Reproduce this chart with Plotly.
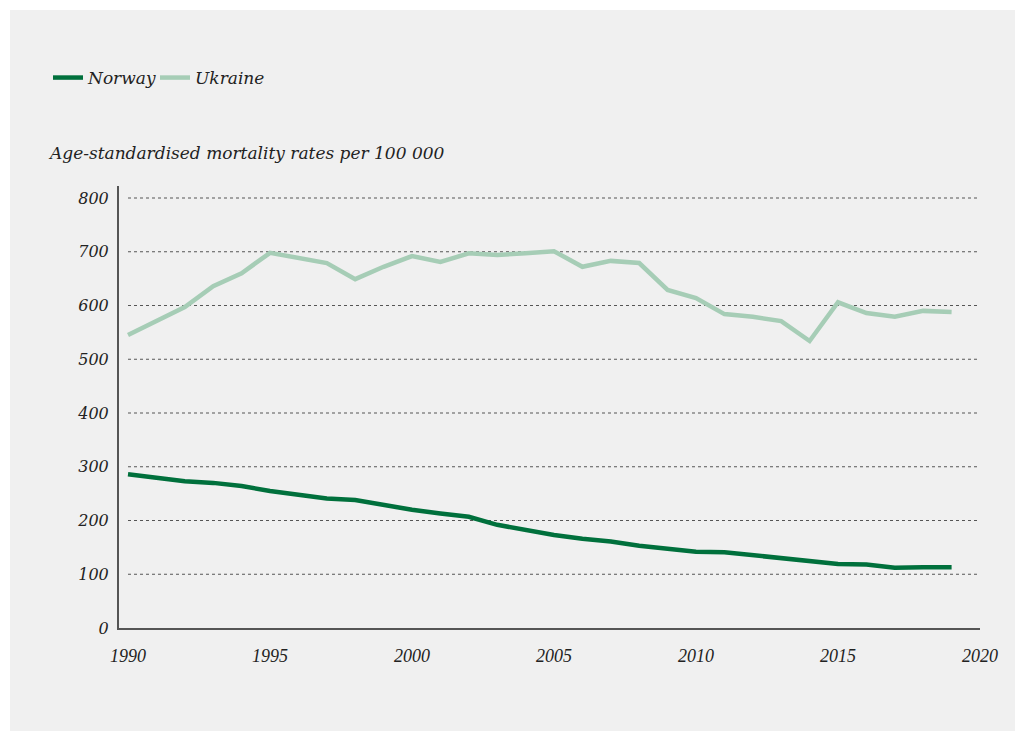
import plotly.graph_objects as go

years = list(range(1990, 2020))
norway = [286, 279, 273, 270, 264, 255, 247, 241, 238, 228, 220, 213, 207, 192, 182,
          173, 166, 161, 153, 147, 142, 141, 136, 130, 125, 119, 118, 112, 113, 113]
ukraine = [545, 571, 597, 636, 660, 698, 688, 679, 649, 672, 692, 681, 697, 694, 697,
           701, 672, 683, 679, 629, 614, 584, 579, 571, 534, 606, 586, 579, 590, 588]
y_ticks = [0, 100, 200, 300, 400, 500, 600, 700, 800]
x_ticks = [1990, 1995, 2000, 2005, 2010, 2015, 2020]

GREY = "#555555"
FONT = "DejaVu Serif"

L, T, PW, PH = 119, 186, 861, 442
W, H = 1025, 731

fig = go.Figure()
fig.add_trace(go.Scatter(x=years, y=norway, name="Norway", mode="lines",
                         line=dict(color="#00703c", width=4.5), legend="legend"))
fig.add_trace(go.Scatter(x=years, y=ukraine, name="Ukraine", mode="lines",
                         line=dict(color="#a6cdb6", width=4.5), legend="legend2"))

# panel background
fig.add_shape(type="rect", xref="paper", yref="paper",
              x0=(10 - L) / PW, x1=(1015 - L) / PW,
              y0=(T + PH - 740) / PH, y1=(T + PH - 10) / PH,
              fillcolor="#f0f0f0", line=dict(width=0), layer="below")

# dotted gridlines spanning the data years
for v in y_ticks[1:]:
    fig.add_shape(type="line", xref="x", yref="y", x0=years[0], x1=x_ticks[-1],
                  y0=v, y1=v, line=dict(color=GREY, width=1.2, dash="dot"), layer="below")

fig.add_annotation(text="<i>Age-standardised mortality rates per 100 000</i>",
                   xref="paper", yref="paper", x=(46 - L) / PW, y=(T + PH - 153) / PH,
                   xanchor="left", yanchor="middle", showarrow=False,
                   font=dict(family=FONT, size=17, color="#222222"))

legend_common = dict(orientation="h", y=(T + PH - 78) / PH, xanchor="left", yanchor="middle",
                     font=dict(family=FONT, size=17, style="italic", color="#222222"),
                     bgcolor="rgba(0,0,0,0)", itemwidth=30)

fig.update_layout(
    width=W, height=H,
    margin=dict(l=L, r=W - L - PW, t=T, b=H - T - PH),
    paper_bgcolor="white", plot_bgcolor="rgba(0,0,0,0)",
    font=dict(family=FONT, color="#222222"),
    showlegend=True,
    legend=dict(x=(48 - L) / PW, **legend_common),
    legend2=dict(x=(155 - L) / PW, **legend_common),
    xaxis=dict(range=[1990 - 9 / 28.4, 2020], tickvals=x_ticks,
               ticktext=[f"<i>{t}</i>" for t in x_ticks],
               showgrid=False, zeroline=False, showline=True, linecolor=GREY, linewidth=2,
               ticks="outside", ticklen=10, tickcolor="rgba(0,0,0,0)",
               tickfont=dict(family="Liberation Serif", size=18, color="#222222")),
    yaxis=dict(range=[0, 800 + 12 / 0.5375], tickvals=y_ticks,
               ticktext=[f"<i>{t}</i>" for t in y_ticks],
               showgrid=False, zeroline=False, showline=True, linecolor=GREY, linewidth=2,
               ticks="outside", ticklen=5, tickcolor="rgba(0,0,0,0)",
               tickfont=dict(family=FONT, size=16, color="#222222")),
)

fig.write_html("out.html", config={"displayModeBar": False},
               post_script="document.body.style.margin='0';document.body.style.overflow='hidden';")
